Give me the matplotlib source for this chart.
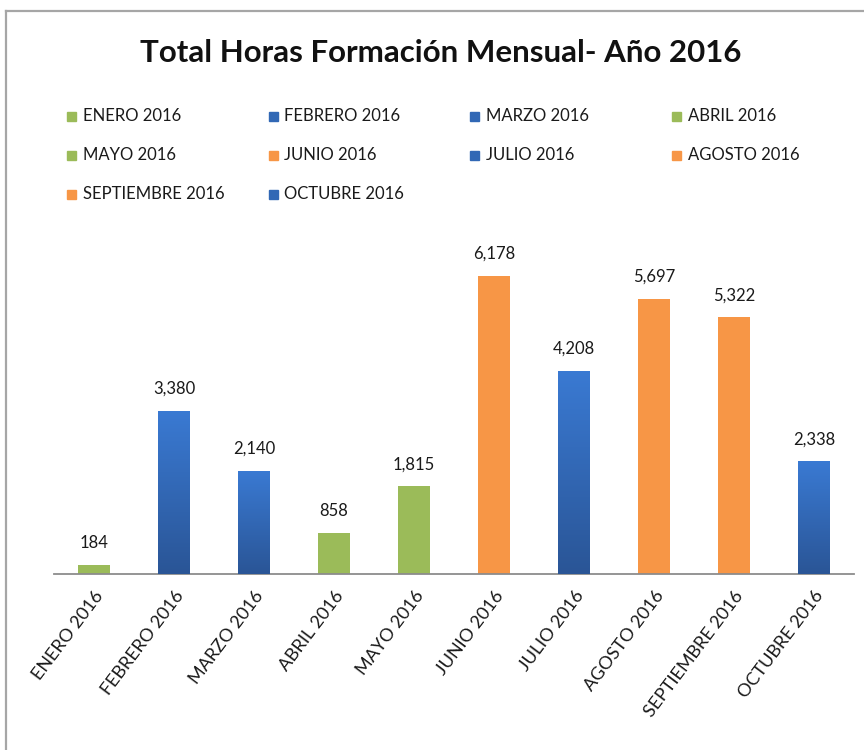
import matplotlib
matplotlib.use('Agg')
import matplotlib.pyplot as plt
import numpy as np
from matplotlib.patches import Rectangle
from matplotlib.lines import Line2D
from matplotlib.colors import LinearSegmentedColormap

months = ["ENERO 2016", "FEBRERO 2016", "MARZO 2016", "ABRIL 2016", "MAYO 2016",
          "JUNIO 2016", "JULIO 2016", "AGOSTO 2016", "SEPTIEMBRE 2016", "OCTUBRE 2016"]
hours = [184, 3380, 2140, 858, 1815, 6178, 4208, 5697, 5322, 2338]
groups = ["green", "blue", "blue", "green", "green", "orange", "blue", "orange", "orange", "blue"]
title = "Total Horas Formación Mensual- Año 2016"

palette = {"green": "#9BBB59", "blue": "#3573C8", "orange": "#F79646"}
blue_cmap = LinearSegmentedColormap.from_list("bl", ["#2A5596", "#3A7AD3"])

FONT = "Lato"
W, H = 864, 750
fig = plt.figure(figsize=(W / 100, H / 100), dpi=100)

def fx(px):
    return px / W

def fy(py):
    return 1 - py / H

# frame border (top and left visible)
fig.add_artist(Line2D([fx(6), fx(W + 5)], [fy(11), fy(11)], color="#A6A6A6", lw=1.6))
fig.add_artist(Line2D([fx(6), fx(6)], [fy(11), fy(H + 5)], color="#A6A6A6", lw=1.6))

ax = fig.add_axes([fx(54), fy(574), fx(854) - fx(54), fy(236) - fy(574)])
x = np.arange(len(months))
bars = ax.bar(x, hours, width=0.4, color=[palette[g] for g in groups], zorder=2)

grad = np.linspace(0, 1, 256).reshape(-1, 1)
for b, g in zip(bars, groups):
    if g == "blue":
        im = ax.imshow(grad, cmap=blue_cmap, origin="lower", aspect="auto",
                       extent=[b.get_x(), b.get_x() + b.get_width(), 0, b.get_height()],
                       zorder=3)
        im.set_clip_path(b)

for xi, h in zip(x, hours):
    ax.annotate(f"{h:,}", (xi, h), xytext=(0, 10), textcoords="offset points",
                ha="center", va="bottom", fontsize=12, family=FONT, color="#1A1A1A")

ax.set_xlim(-0.5, len(months) - 0.5)
ax.set_ylim(0, 7000)
ax.set_yticks([])
ax.set_xticks(x)
ax.set_xticklabels(months, rotation=53, ha="right", rotation_mode="anchor",
                   fontsize=13, family=FONT, color="#1A1A1A")
ax.tick_params(axis="x", length=0, pad=10)
for s in ["top", "left", "right"]:
    ax.spines[s].set_visible(False)
ax.spines["bottom"].set_color("#8C8C8C")
ax.spines["bottom"].set_linewidth(1.3)
ax.patch.set_alpha(0)

# title
fig.text(fx(441), fy(53), title, ha="center", va="center", fontsize=22.5,
         family=FONT, fontweight="bold", color="#111111")

# legend, row-wise, 4 columns
for i, (m, g) in enumerate(zip(months, groups)):
    col, row = i % 4, i // 4
    mx = 67 + 201.5 * col
    my = 116 + 39 * row
    fig.add_artist(Rectangle((fx(mx), fy(my + 4.5)), fx(9), 9 / H,
                             color=bars[i].get_facecolor() if g != "blue" else "#3168B5"))
    fig.text(fx(mx + 16), fy(my), m, ha="left", va="center", fontsize=12,
             family=FONT, color="#1A1A1A")

fig.savefig("out.png", dpi=100, facecolor="white")
